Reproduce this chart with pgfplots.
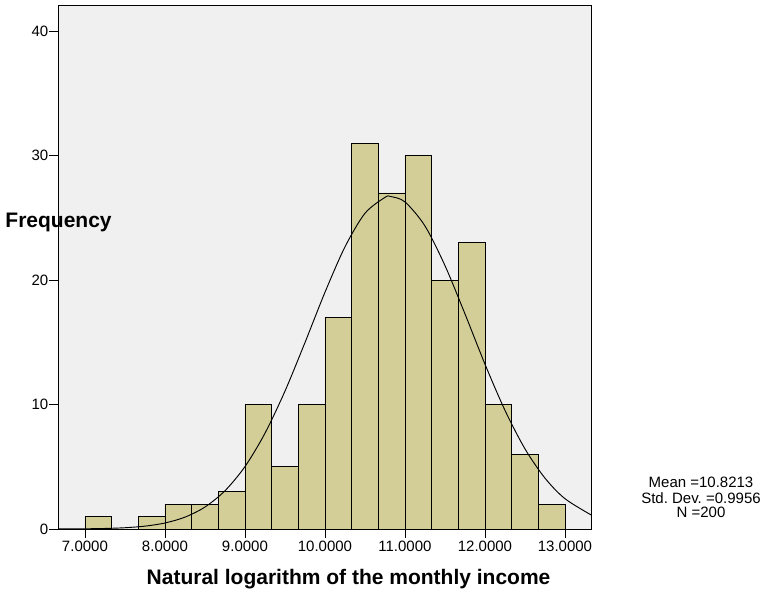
\documentclass[border=0pt]{standalone}
\usepackage{pgfplots}
\pgfplotsset{compat=1.18}
\usepackage{fontspec}
\setmainfont{Liberation Sans}
\frenchspacing
\definecolor{barfill}{RGB}{211,206,152}
\definecolor{plotbg}{RGB}{240,240,240}
\begin{document}
\begin{tikzpicture}
\path (0,0) rectangle (578.25pt,444pt);
\begin{axis}[
  at={(43.7pt,47.25pt)}, anchor=south west,
  scale only axis, width=400pt, height=393pt,
  xmin=6.6667, xmax=13.3333, ymin=0, ymax=42.1,
  axis background/.style={fill=plotbg},
  axis line style={black, line width=0.6pt},
  xtick={7,8,9,10,11,12,13},
  xticklabels={7.0000,8.0000,9.0000,10.0000,11.0000,12.0000,13.0000},
  ytick={0,10,20,30,40},
  tick align=outside, major tick length=6.75pt,
  xtick pos=bottom, ytick pos=left,
  tick style={black, line width=0.6pt},
  /pgf/number format/assume math mode=true,
  tick label style={font=\fontsize{11.25}{13}\selectfont},
  yticklabel style={inner sep=0.5pt},
  xticklabel style={inner sep=2pt},
  clip=true,
]
\addplot[ybar interval, fill=barfill, draw=black, line width=0.6pt] coordinates {
(7,1) (7.33333,0) (7.66667,1) (8,2) (8.33333,2) (8.66667,3)
(9,10) (9.33333,5) (9.66667,10) (10,17) (10.33333,31) (10.66667,27)
(11,30) (11.33333,20) (11.66667,23) (12,10) (12.33333,6) (12.66667,2) (13,2)
};
\addplot[black, line width=0.7pt, smooth, mark=none] coordinates {
(6.667,0.004) (7.0,0.017) (7.25,0.043) (7.5,0.102) (7.75,0.229)
(8.0,0.482) (8.25,0.951) (8.5,1.762) (8.75,3.069) (9.0,5.011)
(9.25,7.687) (9.5,11.07) (9.75,14.97) (10.0,19.01) (10.25,22.66)
(10.5,25.36) (10.75,26.64) (10.8213,26.71) (11.0,26.28) (11.25,24.35)
(11.5,21.17) (11.75,17.29) (12.0,13.25) (12.25,9.54) (12.5,6.445)
(12.75,4.091) (13.0,2.437) (13.333,1.108)
};
\end{axis}
\node[anchor=base, font=\fontsize{15.75}{18}\selectfont\bfseries, inner sep=0pt] at (43.9pt,273pt) {Frequency};
\node[anchor=base, font=\fontsize{15.75}{18}\selectfont\bfseries, inner sep=0pt] at (261.4pt,5.25pt) {Natural logarithm of the monthly income};
\node[anchor=base, font=\fontsize{11.25}{13}\selectfont, inner sep=0pt] at (525.75pt,78.2pt) {Mean =10.8213};
\node[anchor=base, font=\fontsize{11.25}{13}\selectfont, inner sep=0pt] at (525.75pt,66.5pt) {Std. Dev. =0.9956};
\node[anchor=base, font=\fontsize{11.25}{13}\selectfont, inner sep=0pt] at (525.75pt,56.0pt) {N =200};
\end{tikzpicture}
\end{document}
